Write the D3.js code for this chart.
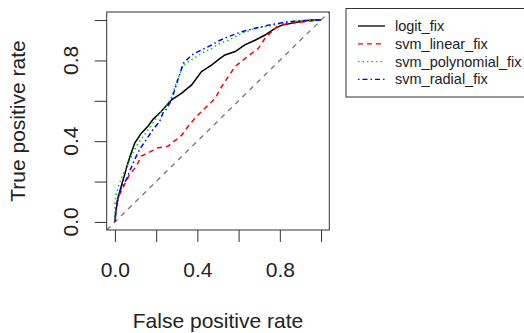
<!DOCTYPE html>
<html>
<head>
<meta charset="utf-8">
<script src="https://cdn.jsdelivr.net/npm/d3@7"></script>
<style>
  body { margin: 0; background: #fff; }
  svg { display: block; font-family: "Liberation Sans", Arial, sans-serif; }
</style>
</head>
<body>
<svg id="chart"></svg>
<script>
// ROC curves (false positive rate / true positive rate)
const models = ["logit_fix", "svm_linear_fix", "svm_polynomial_fix", "svm_radial_fix"];

const logitFpr = [0, 0.004, 0.015, 0.031, 0.047, 0.063, 0.079, 0.096, 0.128, 0.16, 0.184, 0.225, 0.275, 0.324, 0.372, 0.42, 0.47, 0.51, 0.534, 0.583, 0.63, 0.68, 0.728, 0.777, 0.81, 0.89, 0.95, 1];
const logitTpr = [0, 0.05, 0.12, 0.178, 0.235, 0.293, 0.342, 0.39, 0.44, 0.474, 0.507, 0.548, 0.605, 0.638, 0.679, 0.745, 0.778, 0.81, 0.827, 0.844, 0.877, 0.90, 0.926, 0.959, 0.975, 0.99, 1, 1];

const linearFpr = [0, 0.003, 0.006, 0.023, 0.047, 0.071, 0.104, 0.128, 0.16, 0.209, 0.257, 0.298, 0.324, 0.356, 0.396, 0.437, 0.485, 0.518, 0.55, 0.583, 0.623, 0.663, 0.696, 0.728, 0.76, 0.785, 0.84, 0.905, 1];
const linearTpr = [0, 0.03, 0.087, 0.137, 0.186, 0.235, 0.276, 0.326, 0.342, 0.367, 0.375, 0.408, 0.43, 0.475, 0.523, 0.564, 0.61, 0.671, 0.72, 0.77, 0.803, 0.835, 0.86, 0.91, 0.942, 0.967, 0.984, 0.99, 1];

const polyFpr = [0, 0, 0, 0.006, 0.023, 0.039, 0.063, 0.087, 0.112, 0.144, 0.177, 0.218, 0.25, 0.275, 0.3, 0.332, 0.372, 0.42, 0.47, 0.51, 0.55, 0.615, 0.68, 0.744, 0.81, 0.89, 1];
const polyTpr = [0, 0.03, 0.096, 0.137, 0.194, 0.235, 0.285, 0.342, 0.39, 0.433, 0.48, 0.54, 0.572, 0.62, 0.696, 0.778, 0.803, 0.835, 0.86, 0.885, 0.90, 0.934, 0.959, 0.97, 0.984, 0.997, 1];

const radialFpr = [0, 0.003, 0.015, 0.031, 0.055, 0.071, 0.096, 0.12, 0.152, 0.184, 0.217, 0.233, 0.25, 0.275, 0.3, 0.332, 0.372, 0.42, 0.47, 0.51, 0.55, 0.615, 0.68, 0.744, 0.81, 0.89, 1];
const radialTpr = [0, 0.04, 0.12, 0.17, 0.21, 0.25, 0.31, 0.36, 0.408, 0.457, 0.498, 0.54, 0.56, 0.605, 0.688, 0.786, 0.827, 0.852, 0.877, 0.90, 0.918, 0.942, 0.959, 0.975, 0.987, 0.997, 1];

const ticks = [0, 0.2, 0.4, 0.6, 0.8, 1.0];
const tickLabels = ["0.0", "", "0.4", "", "0.8", ""];

// styles
const colors = ["#000000", "#ff0000", "#00d000", "#0000ff"];
const dashes = [null, "5,4", "1.5,3", "1.5,3,5,3"];

const width = 524, height = 333;
const box = {left: 106.7, right: 329.3, top: 12, bottom: 230};
const txt = "#222";

const svg = d3.select("#chart").attr("width", width).attr("height", height);

const x = d3.scaleLinear().domain([-0.04, 1.04]).range([box.left, box.right]);
const y = d3.scaleLinear().domain([-0.04, 1.04]).range([box.bottom, box.top]);

const series = [
  {name: models[0], fpr: logitFpr, tpr: logitTpr},
  {name: models[1], fpr: linearFpr, tpr: linearTpr},
  {name: models[2], fpr: polyFpr, tpr: polyTpr},
  {name: models[3], fpr: radialFpr, tpr: radialTpr}
];

svg.append("clipPath").attr("id", "clip")
  .append("rect")
  .attr("x", box.left).attr("y", box.top)
  .attr("width", box.right - box.left).attr("height", box.bottom - box.top);

const line = d3.line().x(d => x(d[0])).y(d => y(d[1]));

// diagonal reference line (abline 0,1)
svg.append("path")
  .attr("clip-path", "url(#clip)")
  .attr("d", line([[-0.04, -0.04], [1.04, 1.04]]))
  .attr("fill", "none")
  .attr("stroke", "#777")
  .attr("stroke-width", 1.3)
  .attr("stroke-dasharray", "5,5");

series.forEach((s, i) => {
  const pts = s.fpr.map((f, j) => [f, s.tpr[j]]);
  svg.append("path")
    .attr("d", line(pts))
    .attr("fill", "none")
    .attr("stroke", colors[i])
    .attr("stroke-width", 1.5)
    .attr("stroke-dasharray", dashes[i]);
});

// plot box
svg.append("rect")
  .attr("x", box.left).attr("y", box.top)
  .attr("width", box.right - box.left).attr("height", box.bottom - box.top)
  .attr("fill", "none").attr("stroke", "#333").attr("stroke-width", 1);

// x axis
const xAxis = svg.append("g")
  .attr("transform", `translate(0,${box.bottom})`)
  .call(d3.axisBottom(x).tickValues(ticks).tickSize(12).tickPadding(20)
    .tickFormat((d, i) => tickLabels[i]));
xAxis.select(".domain").remove();
xAxis.selectAll("line").attr("stroke", "#333");
xAxis.selectAll("text").attr("font-size", 21).attr("fill", txt)
  .attr("font-family", "Liberation Sans, Arial, sans-serif");

// y axis
const yAxis = svg.append("g")
  .attr("transform", `translate(${box.left},0)`)
  .call(d3.axisLeft(y).tickValues(ticks).tickSize(12).tickFormat(""));
yAxis.select(".domain").remove();
yAxis.selectAll("line").attr("stroke", "#333");

svg.append("g").selectAll("text")
  .data(ticks)
  .join("text")
  .attr("transform", d => `translate(78,${y(d)}) rotate(-90)`)
  .attr("text-anchor", "middle")
  .attr("font-size", 21)
  .attr("fill", txt)
  .text((d, i) => tickLabels[i]);

// axis titles
svg.append("text")
  .attr("x", (box.left + box.right) / 2).attr("y", 328)
  .attr("text-anchor", "middle").attr("font-size", 21).attr("fill", txt)
  .text("False positive rate");

svg.append("text")
  .attr("transform", `translate(25,${(box.top + box.bottom) / 2}) rotate(-90)`)
  .attr("text-anchor", "middle").attr("font-size", 21).attr("fill", txt)
  .text("True positive rate");

// legend
const legend = svg.append("g");
legend.append("rect")
  .attr("x", 346).attr("y", 8.5).attr("width", 200).attr("height", 88.5)
  .attr("fill", "#fff").attr("stroke", "#333").attr("stroke-width", 1);

const items = legend.selectAll("g.item")
  .data(models)
  .join("g")
  .attr("class", "item")
  .attr("transform", (d, i) => `translate(0,${31 + i * 17.8})`);

items.append("line")
  .attr("x1", 358).attr("x2", 385)
  .attr("y1", -5).attr("y2", -5)
  .attr("stroke", (d, i) => colors[i])
  .attr("stroke-width", 1.3)
  .attr("stroke-dasharray", (d, i) => dashes[i]);

items.append("text")
  .attr("x", 395).attr("y", 0)
  .attr("font-size", 14.5).attr("fill", txt)
  .text(d => d);
</script>
</body>
</html>
